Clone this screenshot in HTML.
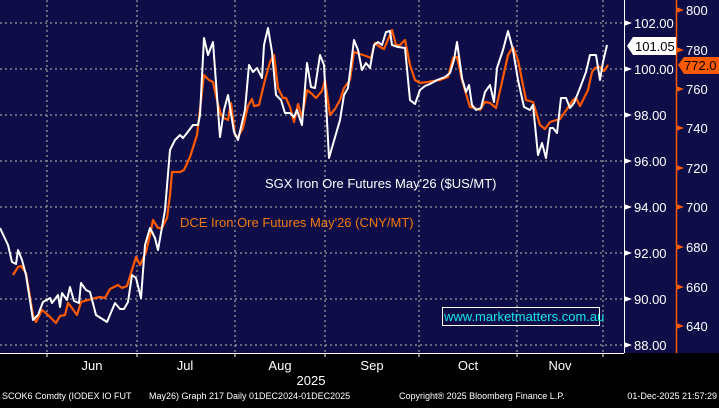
<!DOCTYPE html>
<html><head><meta charset="utf-8"><style>
body{margin:0;background:#000;width:719px;height:403px;overflow:hidden;font-family:"Liberation Sans",sans-serif}
</style></head><body>
<svg width="719" height="403" xmlns="http://www.w3.org/2000/svg" font-family="Liberation Sans, sans-serif">
<rect x="0" y="0" width="719" height="403" fill="#000"/>
<rect x="0" y="0" width="676" height="353" fill="#0f0d48"/>
<rect x="676" y="0" width="43" height="353" fill="#0f0d48"/>
<g stroke="#9a9a9a" stroke-width="1.3" stroke-dasharray="2,3">
<line x1="0" y1="23" x2="624" y2="23"/><line x1="0" y1="69" x2="624" y2="69"/><line x1="0" y1="115" x2="624" y2="115"/><line x1="0" y1="161" x2="624" y2="161"/><line x1="0" y1="207" x2="624" y2="207"/><line x1="0" y1="253" x2="624" y2="253"/><line x1="0" y1="299" x2="624" y2="299"/><line x1="0" y1="345" x2="624" y2="345"/>
<line x1="47" y1="0" x2="47" y2="353"/><line x1="137" y1="0" x2="137" y2="353"/><line x1="235" y1="0" x2="235" y2="353"/><line x1="325" y1="0" x2="325" y2="353"/><line x1="419" y1="0" x2="419" y2="353"/><line x1="517" y1="0" x2="517" y2="353"/><line x1="603" y1="0" x2="603" y2="353"/>
</g>
<line x1="624.5" y1="0" x2="624.5" y2="353" stroke="#fff" stroke-width="1"/>
<line x1="0" y1="353.5" x2="624" y2="353.5" stroke="#fff" stroke-width="1"/>
<line x1="676.5" y1="0" x2="676.5" y2="353" stroke="#ff5a00" stroke-width="1.5"/>
<g stroke="#fff"><line x1="47" y1="353" x2="47" y2="357"/><line x1="137" y1="353" x2="137" y2="357"/><line x1="235" y1="353" x2="235" y2="357"/><line x1="325" y1="353" x2="325" y2="357"/><line x1="419" y1="353" x2="419" y2="357"/><line x1="517" y1="353" x2="517" y2="357"/><line x1="603" y1="353" x2="603" y2="357"/></g>
<g fill="#fff"><polygon points="624,20 632,23 624,26"/><polygon points="624,66 632,69 624,72"/><polygon points="624,112 632,115 624,118"/><polygon points="624,158 632,161 624,164"/><polygon points="624,204 632,207 624,210"/><polygon points="624,250 632,253 624,256"/><polygon points="624,296 632,299 624,302"/><polygon points="624,342 632,345 624,348"/></g>
<g fill="#fff" font-size="13">
<text x="634" y="28">102.00</text><text x="634" y="74">100.00</text><text x="634" y="120">98.00</text><text x="634" y="166">96.00</text><text x="634" y="212">94.00</text><text x="634" y="258">92.00</text><text x="634" y="304">90.00</text><text x="634" y="350">88.00</text>
</g>
<g fill="#ff5a00"><polygon points="676,7 684,10 676,13"/><polygon points="676,47 684,50 676,53"/><polygon points="676,86 684,89 676,92"/><polygon points="676,125 684,128 676,131"/><polygon points="676,165 684,168 676,171"/><polygon points="676,204 684,207 676,210"/><polygon points="676,244 684,247 676,250"/><polygon points="676,284 684,287 676,290"/><polygon points="676,323 684,326 676,329"/></g>
<g fill="#fff" font-size="13">
<text x="686" y="15">800</text><text x="686" y="55">780</text><text x="686" y="94">760</text><text x="686" y="133">740</text><text x="686" y="173">720</text><text x="686" y="212">700</text><text x="686" y="252">680</text><text x="686" y="292">660</text><text x="686" y="331">640</text>
</g>
<polygon points="627,46 633,37 676,37 676,55 633,55" fill="#fff"/>
<text x="635" y="51" font-size="13" fill="#000">101.05</text>
<polygon points="678,65 684,57 719,57 719,74 684,74" fill="#ff5a00"/>
<text x="684" y="70" font-size="13" fill="#000">772.0</text>
<polyline fill="none" stroke="#ff5a00" stroke-width="2.2" stroke-linejoin="round" points="13,275 18,267 21,266 26,273 33,315 36,322 42,310 47,314 53,320 56,323 60,316 65,315 68,303 72,308 77,315 81,302 88,300 95,298 100,297 105,298 110,289 118,285 122,288 127,286 132,270 136,257 140,265 146,252 150,235 153,220 158,228 162,228 167,218 170,195 172,172 180,172 184,170 190,157 197,135 204,75 209,80 213,82 217,100 221,115 224,118 228,120 231,103 235,135 238,137 243,128 248,106 252,99 254,106 259,105 265,80 270,62 274,55 278,88 283,98 286,98 290,107 294,122 298,104 302,117 307,90 312,94 316,98 322,91 325,80 330,115 335,109 340,100 344,88 350,80 354,52 360,54 366,56 371,58 375,43 380,47 384,49 392,30 396,45 400,45 405,40 410,65 415,80 420,83 428,82 440,80 448,77 453,58 457,57 462,80 470,107 475,108 480,110 485,102 490,103 496,108 502,82 508,55 513,47 518,60 526,100 533,102 540,125 545,129 550,122 560,119 567,109 573,100 576,98 580,106 588,90 592,72 595,68 600,67 604,71 608,65"/>
<polyline fill="none" stroke="#fff" stroke-width="2" stroke-linejoin="round" points="0,228 8,245 12,262 16,264 18,250 22,260 26,275 33,320 38,315 43,302 50,298 52,303 58,295 60,307 62,293 67,300 70,287 74,301 79,303 81,283 86,290 90,292 96,315 107,322 115,303 120,309 124,309 128,302 132,275 136,278 141,298 145,245 150,228 155,238 158,250 165,210 170,150 175,140 180,135 183,138 187,133 193,125 198,125 200,115 204,38 208,55 213,42 220,137 224,110 228,95 234,132 238,140 245,110 249,65 253,72 257,68 262,78 264,45 268,28 272,52 276,95 281,100 285,113 290,113 294,117 297,110 302,125 307,63 311,87 315,88 320,55 324,65 329,158 340,120 344,95 348,88 354,40 358,50 362,70 366,63 370,68 374,45 378,42 382,45 386,32 390,31 392,45 398,47 405,48 410,100 415,104 420,90 425,86 430,84 437,80 445,77 450,73 454,60 457,42 462,78 466,92 469,85 472,105 476,110 481,108 485,92 490,85 494,102 497,68 503,50 508,31 513,50 518,80 524,107 530,110 533,105 538,155 542,143 546,158 550,128 553,128 557,133 561,98 566,98 570,108 574,103 580,88 586,72 590,55 596,55 600,80 603,62 607,45"/>
<text x="265" y="188" font-size="13" fill="#fff">SGX Iron Ore Futures May'26 ($US/MT)</text>
<text x="180" y="227" font-size="13" fill="#f07a10">DCE Iron Ore Futures May'26 (CNY/MT)</text>
<rect x="442.5" y="307.5" width="157" height="18" fill="none" stroke="#fff" stroke-width="1"/>
<text x="444" y="321" font-size="13" fill="#10e8f0">www.marketmatters.com.au</text>
<g fill="#fff" font-size="13" text-anchor="middle">
<text x="92" y="370">Jun</text><text x="185" y="370">Jul</text><text x="280" y="370">Aug</text><text x="372" y="370">Sep</text><text x="468" y="370">Oct</text><text x="560" y="370">Nov</text><text x="311" y="385">2025</text>
</g>
<g fill="#fff" font-size="9">
<text x="2" y="399">SCOK6 Comdty (IODEX IO FUT</text><text x="149" y="399">May26) Graph 217 Daily 01DEC2024-01DEC2025</text><text x="399" y="399">Copyright® 2025 Bloomberg Finance L.P.</text><text x="717" y="399" text-anchor="end">01-Dec-2025 21:57:29</text>
</g>
</svg>
</body></html>
